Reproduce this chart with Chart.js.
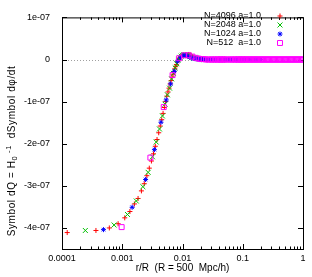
<!DOCTYPE html>
<html>
<head>
<meta charset="utf-8">
<script src="https://cdn.jsdelivr.net/npm/chart.js@4"></script>
<style>
html, body { margin: 0; padding: 0; background: #fff; }
</style>
</head>
<body>
<canvas id="myChart" width="312" height="277"></canvas>
<script>
// y values are in units of 1e-07
var seriesLabels = ['N=4096 a=1.0', 'N=2048 a=1.0', 'N=1024 a=1.0', 'N=512  a=1.0'];
var seriesColors = ['#ff0000', '#00c000', '#0000ff', '#ff00ff'];

var r4096 = [0.000122, 0.000366, 0.000610, 0.000854, 0.00110, 0.00134, 0.00159, 0.00183, 0.00208, 0.00232,
    0.00256, 0.00281, 0.00305, 0.00330, 0.00354, 0.00378, 0.00403, 0.00427, 0.00452, 0.00476,
    0.00500, 0.00525, 0.00549, 0.00574, 0.00598, 0.00623, 0.00647, 0.00671, 0.00696, 0.00720,
    0.00745, 0.00769, 0.00793, 0.00818, 0.00842, 0.00867, 0.00891, 0.00916, 0.00940, 0.00964,
    0.00989, 0.0104, 0.0111, 0.0118, 0.0126, 0.0133, 0.0140, 0.0150, 0.0162, 0.0174,
    0.0187, 0.020, 0.022, 0.025, 0.028, 0.031, 0.035, 0.040, 0.045, 0.050,
    0.057, 0.064, 0.072, 0.081, 0.091];
var q4096 = [-4.11, -4.06, -4.00, -3.90, -3.76, -3.61, -3.43, -3.30, -3.12, -2.95,
    -2.76, -2.58, -2.41, -2.24, -2.06, -1.90, -1.74, -1.58, -1.43, -1.28,
    -1.14, -1.00, -0.87, -0.77, -0.68, -0.58, -0.50, -0.42, -0.35, -0.29,
    -0.22, -0.17, -0.12, -0.06, -0.02, 0.01, 0.03, 0.05, 0.07, 0.08,
    0.09, 0.10, 0.11, 0.11, 0.12, 0.12, 0.10, 0.06, 0.04, 0.03,
    0.02, 0.01, 0.01, 0, 0, 0, 0, 0, 0, 0,
    0, 0, 0, 0, 0];

var r2048 = [0.000244, 0.000732, 0.00122, 0.00171, 0.00220, 0.00269, 0.00317, 0.00366, 0.00415, 0.00464,
    0.00513, 0.00562, 0.00610, 0.00659, 0.00708, 0.00757, 0.00806, 0.00854, 0.00903, 0.00952,
    0.0100, 0.0105, 0.0110, 0.0115, 0.0120, 0.0125, 0.0134, 0.0144, 0.0154, 0.0164,
    0.0173, 0.0183, 0.0193, 0.021, 0.023, 0.026, 0.029, 0.032, 0.036, 0.040,
    0.045, 0.050, 0.056, 0.062, 0.070, 0.078, 0.087, 0.097];
var q2048 = [-4.06, -3.93, -3.68, -3.36, -3.02, -2.68, -2.31, -1.96, -1.65, -1.34,
    -1.06, -0.84, -0.68, -0.46, -0.33, -0.20, -0.10, -0.01, 0.05, 0.08,
    0.10, 0.11, 0.11, 0.11, 0.10, 0.09, 0.07, 0.05, 0.04, 0.03,
    0.03, 0.02, 0.02, 0.01, 0, 0, 0, 0, 0, 0,
    0, 0, 0, 0, 0, 0, 0, 0];

var r1024 = [0.000488, 0.00146, 0.00244, 0.00342, 0.00439, 0.00537, 0.00635, 0.00732, 0.00830, 0.00928,
    0.0103, 0.0112, 0.0122, 0.0132, 0.0142, 0.0151, 0.0161, 0.0171, 0.0181, 0.0190,
    0.0200, 0.021, 0.022, 0.023, 0.024, 0.025, 0.026, 0.027, 0.029, 0.030,
    0.032, 0.033, 0.035, 0.036, 0.038, 0.039, 0.041, 0.043, 0.045, 0.047,
    0.049, 0.051, 0.054, 0.056, 0.059, 0.061, 0.064, 0.067, 0.070, 0.073,
    0.077, 0.080, 0.084, 0.087, 0.091, 0.095, 0.100, 0.104, 0.109, 0.114,
    0.119, 0.125, 0.137, 0.150, 0.165, 0.180, 0.197];
var q1024 = [-4.04, -3.51, -2.85, -2.14, -1.49, -0.96, -0.58, -0.28, -0.04, 0.05,
    0.10, 0.10, 0.08, 0.06, 0.04, 0.03, 0.02, 0.02, 0.01, 0.01,
    0.01, 0, 0, 0, 0, 0, 0, 0, 0, 0,
    0, 0, 0, 0, 0, 0, 0, 0, 0, 0,
    0, 0, 0, 0, 0, 0, 0, 0, 0, 0,
    0, 0, 0, 0, 0, 0, 0, 0, 0, 0,
    0, 0, 0, 0, 0, 0, 0];

var r512 = [0.000977, 0.00293, 0.00488, 0.00684, 0.00879, 0.0107, 0.0127, 0.0146, 0.0166, 0.0186,
    0.0205, 0.0225, 0.0244, 0.0264, 0.0283, 0.0303, 0.0322, 0.0342, 0.0361, 0.0381,
    0.0400, 0.0420, 0.0439, 0.0459, 0.0479, 0.0498, 0.0537, 0.0576, 0.0615, 0.0654,
    0.0693, 0.0732, 0.0771, 0.0811, 0.0850, 0.0889, 0.0928, 0.0967, 0.100, 0.105,
    0.110, 0.115, 0.120, 0.126, 0.132, 0.138, 0.145, 0.151, 0.158, 0.166,
    0.174, 0.182, 0.191, 0.200, 0.209, 0.219, 0.229, 0.240, 0.251, 0.263,
    0.275, 0.288, 0.302, 0.316, 0.331, 0.347, 0.363, 0.380, 0.398, 0.417,
    0.437, 0.457, 0.479, 0.501, 0.525, 0.550, 0.575, 0.603, 0.631, 0.661,
    0.692, 0.724, 0.759, 0.794, 0.832, 0.871, 0.912, 0.955, 0.999];
var q512 = [-3.98, -2.33, -1.13, -0.37, 0.03, 0.10, 0.10, 0.07, 0.04, 0.02,
    0.01, 0.01, 0, 0, 0, 0, 0, 0, 0, 0,
    0, 0, 0, 0, 0, 0, 0, 0, 0, 0,
    0, 0, 0, 0, 0, 0, 0, 0, 0, 0,
    0, 0, 0, 0, 0, 0, 0, 0, 0, 0,
    0, 0, 0, 0, 0, 0, 0, 0, 0, 0,
    0, 0, 0, 0, 0, 0, 0, 0, 0, 0,
    0, 0, 0, 0, 0, 0, 0, 0, 0, 0,
    0, 0, 0, 0, 0, 0, 0, 0, 0];

var xTicks = [0.0001, 0.001, 0.01, 0.1, 1];
var xTickLabels = ['0.0001', '0.001', '0.01', '0.1', '1'];
var yTicks = [1, 0, -1, -2, -3, -4];
var yTickLabels = ['1e-07', '0', '-1e-07', '-2e-07', '-3e-07', '-4e-07'];

var xTitle = 'r/R  (R = 500  Mpc/h)';
// [text, font size, baseline shift]
var yTitleParts = [['Symbol dQ = H', 10, 0], ['0', 7.5, 2.5], [' -1', 7.5, -4], ['  dSymbol d\u03c6/dt', 10, 0]];

var fontFamily = '"Liberation Sans", Arial, sans-serif';
Chart.defaults.font.family = fontFamily;
Chart.defaults.color = '#000';

function points(r, q) {
    return r.map((x, i) => ({x: x, y: q[i]}));
}

var frame = {
    id: 'frame',
    beforeDatasetsDraw(chart) {
        const {ctx, chartArea: a, scales: {x, y}} = chart;
        ctx.save();
        // dotted zero axis
        ctx.strokeStyle = '#a0a0a0';
        ctx.lineWidth = 1;
        ctx.setLineDash([1, 2]);
        const y0 = Math.round(y.getPixelForValue(0)) + 0.5;
        ctx.beginPath();
        ctx.moveTo(a.left, y0);
        ctx.lineTo(a.right, y0);
        ctx.stroke();
        ctx.setLineDash([]);

        ctx.strokeStyle = '#000';
        ctx.strokeRect(a.left + 0.5, a.top + 0.5, a.right - a.left, a.bottom - a.top);
        ctx.beginPath();
        xTicks.forEach(v => {
            for (let m = 1; m < 10; m++) {
                const val = v * m;
                if (val > xTicks[xTicks.length - 1] * 1.0001) break;
                const px = Math.round(x.getPixelForValue(val)) + 0.5;
                const len = m === 1 ? 5 : 2.5;
                ctx.moveTo(px, a.bottom); ctx.lineTo(px, a.bottom - len);
                ctx.moveTo(px, a.top); ctx.lineTo(px, a.top + len);
            }
        });
        yTicks.forEach(v => {
            const py = Math.round(y.getPixelForValue(v)) + 0.5;
            ctx.moveTo(a.left, py); ctx.lineTo(a.left + 5, py);
            ctx.moveTo(a.right, py); ctx.lineTo(a.right - 5, py);
        });
        ctx.stroke();
        ctx.restore();
    },
    afterDraw(chart) {
        const ctx = chart.ctx;
        ctx.save();
        // key, text first then the symbol
        ctx.textAlign = 'right';
        ctx.textBaseline = 'middle';
        chart.data.datasets.forEach((ds, i) => {
            const yy = 16 + i * 9;
            ctx.font = '9px ' + fontFamily;
            ctx.fillStyle = '#000';
            ctx.fillText(ds.label, 261, yy);
            ctx.strokeStyle = ds.borderColor;
            ctx.fillStyle = ds.backgroundColor;
            ctx.lineWidth = 1;
            Chart.helpers.drawPoint(ctx, {pointStyle: ds.pointStyle, radius: ds.pointRadius, rotation: 0, borderWidth: 1}, 280, yy);
        });

        // y axis title
        ctx.translate(12.5, 151);
        ctx.rotate(-Math.PI / 2);
        ctx.textAlign = 'left';
        ctx.fillStyle = '#000';
        ctx.letterSpacing = '0.6px';
        let total = 0;
        yTitleParts.forEach(p => { ctx.font = p[1] + 'px ' + fontFamily; total += ctx.measureText(p[0]).width; });
        let cx = -total / 2;
        yTitleParts.forEach(p => {
            ctx.font = p[1] + 'px ' + fontFamily;
            ctx.fillText(p[0], cx, p[2]);
            cx += ctx.measureText(p[0]).width;
        });
        ctx.restore();
    }
};

var ctx = document.getElementById('myChart').getContext('2d');
var myChart = new Chart(ctx, {
    type: 'scatter',
    data: {
        datasets: [{
            label: seriesLabels[0], data: points(r4096, q4096),
            pointStyle: 'cross', pointRadius: 2.5, borderColor: seriesColors[0], backgroundColor: 'transparent', borderWidth: 1, order: 4
        }, {
            label: seriesLabels[1], data: points(r2048, q2048),
            pointStyle: 'crossRot', pointRadius: 3.5, borderColor: seriesColors[1], backgroundColor: 'transparent', borderWidth: 1, order: 3
        }, {
            label: seriesLabels[2], data: points(r1024, q1024),
            pointStyle: 'star', pointRadius: 2.5, borderColor: seriesColors[2], backgroundColor: 'transparent', borderWidth: 1, order: 2
        }, {
            label: seriesLabels[3], data: points(r512, q512),
            pointStyle: 'rect', pointRadius: 3.5, borderColor: seriesColors[3], backgroundColor: 'transparent', borderWidth: 1, order: 1
        }]
    },
    options: {
        responsive: false,
        animation: false,
        events: [],
        layout: { padding: { left: 0, top: 7, right: 9, bottom: 0 } },
        plugins: { legend: { display: false }, tooltip: { enabled: false } },
        scales: {
            x: {
                type: 'logarithmic', min: 0.0001, max: 1,
                afterBuildTicks: s => { s.ticks = xTicks.map(v => ({value: v})); },
                afterFit: s => { s.height = 28; },
                grid: { display: false, drawTicks: false, tickLength: 0 },
                border: { display: false },
                ticks: {
                    autoSkip: false, maxRotation: 0, padding: 4, color: '#000',
                    font: { size: 9 },
                    callback: (v, i) => xTickLabels[i]
                },
                title: { display: true, text: xTitle, color: '#000', font: { size: 10 }, padding: { top: 0, bottom: 3 } }
            },
            y: {
                min: -4.5, max: 1,
                afterBuildTicks: s => { s.ticks = yTicks.map(v => ({value: v})); },
                afterFit: s => { s.width = 62; },
                grid: { display: false, drawTicks: false, tickLength: 0 },
                border: { display: false },
                ticks: {
                    autoSkip: false, padding: 12, color: '#000',
                    font: { size: 9 },
                    callback: (v, i) => yTickLabels[i]
                }
            }
        }
    },
    plugins: [frame]
});
</script>
</body>
</html>
